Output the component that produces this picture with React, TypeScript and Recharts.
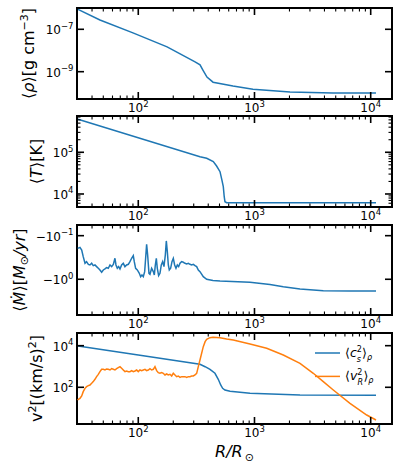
import React from 'react';
import { LineChart, Line, XAxis, YAxis, Legend, ReferenceArea } from 'recharts';

const BLUE = '#1f77b4';
const ORANGE = '#ff7f0e';
const FONT = '"DejaVu Sans", sans-serif';

// shared radius axis (R / R_sun), log scale
const xDomain = [29.7, 15250];
const xMajor = [100, 1000, 10000];
const xTicks = [
  40, 50, 60, 70, 80, 90, 100,
  200, 300, 400, 500, 600, 700, 800, 900, 1000,
  2000, 3000, 4000, 5000, 6000, 7000, 8000, 9000, 10000,
];

// <rho> [g cm^-3]
const rhoR = [30.3, 46.8, 90, 177, 308, 340, 360, 390, 440, 653, 970, 2020, 4740, 11100];
const rho = [8.7e-7, 2.75e-7, 6.8e-8, 1.48e-8, 2.9e-9, 2.1e-9, 1.2e-9, 5.6e-10, 3.2e-10, 2.1e-10, 1.5e-10, 1.1e-10, 1.0e-10, 1.0e-10];
const rhoTicks = [1e-9, 1e-7];

// <T> [K]
const tempR = [30.3, 339.6, 387.9, 442, 472, 505, 524, 539, 549, 557, 576, 11110];
const temp = [616600, 78300, 71800, 59600, 46800, 34300, 21700, 15000, 8610, 6530, 6170, 6170];
const tempMajor = [1e4, 1e5];
const tempTicks = [
  5000, 6000, 7000, 8000, 9000, 1e4,
  2e4, 3e4, 4e4, 5e4, 6e4, 7e4, 8e4, 9e4, 1e5,
  2e5, 3e5, 4e5, 5e5, 6e5, 7e5,
];

// <Mdot> [M_sun / yr]
const mdotR = [
  30.1, 31.5, 32.6, 33.6, 34.8, 35.9, 37.2, 38.4, 39.7, 41.0, 42.4, 43.8, 45.3, 46.8, 48.4, 50.0, 51.7, 53.4, 55.2, 57.1,
  59.0, 61.0, 63.0, 64.3, 66.0, 67.8, 69.6, 71.9, 74.3, 76.8, 79.4, 82.1, 84.8, 87.7, 90.6, 92.4, 94.9, 98.1, 102.1, 104.8,
  107.6, 110.5, 113.5, 115.7, 118.0, 120.4, 123.6, 126.1, 130.3, 134.7, 137.4, 140.2, 143.0, 145.8, 149.7, 153.7, 157.8, 162.1, 166.4, 170.9,
  174.3, 177.8, 181.4, 184.9, 189.9, 195.0, 200.2, 205.6, 211.1, 216.8, 222.6, 228.6, 236.2, 244.1, 252.4, 260.9, 269.6, 278.6, 288.0, 297.6,
  307.6, 318.0, 328.6, 339.6, 362.6, 387.9, 439.5, 504.9, 914.8, 1359, 1769, 2463, 3909, 6634, 11110,
];
const mdot = [
  -0.195, -0.185, -0.213, -0.303, -0.430, -0.394, -0.454, -0.470, -0.430, -0.487,
  -0.470, -0.513, -0.560, -0.612, -0.692, -0.612, -0.580, -0.541, -0.560, -0.470,
  -0.513, -0.454, -0.330, -0.470, -0.560, -0.513, -0.580, -0.470, -0.430, -0.513,
  -0.470, -0.454, -0.394, -0.330, -0.287, -0.394, -0.560, -0.612, -0.730, -0.871,
  -0.797, -0.871, -0.668, -0.330, -0.158, -0.277, -0.730, -0.769, -0.560, -0.668,
  -0.797, -0.470, -0.330, -0.560, -0.826, -0.730, -0.470, -0.394, -0.513, -0.277,
  -0.132, -0.232, -0.470, -0.612, -0.560, -0.394, -0.330, -0.470, -0.560, -0.470,
  -0.513, -0.430, -0.394, -0.408, -0.430, -0.446, -0.430, -0.454, -0.470, -0.454,
  -0.487, -0.513, -0.612, -0.668, -0.871, -1.0, -1.065, -1.094, -1.172, -1.316,
  -1.479, -1.668, -1.825, -1.855, -1.855,
];
const mdotTicks = [0.1, 1];

// <c_s^2>_rho and <v_R^2>_rho [(km/s)^2]
const csR = [30.3, 100, 339.6, 376, 414, 457, 488, 512, 532, 557, 616, 915, 2463, 11110];
const cs2 = [9700, 3590, 1277, 977, 733, 471, 243, 129, 89.5, 74, 64.6, 51.5, 42.7, 42];
const vrR = [
  30.0, 30.5, 31.5, 32.6, 33.6, 34.8, 35.9, 37.2, 38.4, 39.7, 41.0, 42.4, 43.8, 45.3, 46.8, 48.4, 50.0, 51.7, 53.4, 55.2,
  57.1, 59.0, 61.0, 63.0, 65.1, 67.3, 69.6, 71.9, 74.3, 76.8, 79.4, 82.1, 84.8, 87.7, 90.6, 93.7, 96.8, 100, 103.4, 106.9,
  110.5, 114.2, 118.0, 122.0, 126.1, 130.3, 134.7, 139.2, 143.9, 148.7, 153.7, 158.9, 164.2, 169.7, 175.4, 181.4, 187.5, 193.8, 200.2, 207.0,
  213.9, 221.1, 228.6, 236.2, 244.1, 252.4, 260.9, 269.6, 278.6, 288.0, 297.6, 307.6, 318.0, 328.6, 339.6,
  362.6, 376, 387.9, 414, 439.5, 504.9, 576.5, 657, 914.8, 1273, 1769, 2463, 3206, 3909, 4766, 6634, 9240, 11110,
];
const vr2 = [
  24.5, 26.4, 29.5, 38.2, 61.6, 89.2, 107, 120, 129, 155, 187, 242, 324, 420, 565, 731, 731, 679, 759, 731,
  679, 787, 731, 679, 787, 879, 982, 817, 679, 565, 608, 565, 565, 631, 565, 608, 679, 565, 679, 631,
  679, 731, 631, 679, 787, 679, 731, 982, 631, 505, 470, 505, 470, 390, 436, 390, 420, 349, 470, 390,
  324, 349, 301, 324, 324, 324, 301, 324, 324, 349, 349, 390, 470, 982, 2050,
  8950, 15560, 20300, 24300, 25400, 24300, 21000, 18800, 12070, 7500, 3575, 1426, 471, 186, 74, 17, 4.66, 2.68,
];
const v2Ticks = [100, 10000];

const pts = (xs: number[], ys: number[]) => xs.map((r, i) => ({ r, v: ys[i] }));

const CHART_W = 398;
const M_LEFT = 77;
const M_RIGHT = 6;
const M_TOP = 8;
const PLOT_W = CHART_W - M_LEFT - M_RIGHT;

const isMajor = (v: number, majors: number[]) => majors.some((m) => Math.abs(v / m - 1) < 1e-6);
const exp10 = (v: number) => String(Math.round(Math.log10(Math.abs(v)))).replace('-', '\u2212');

const TICK_FS = 12;
const SUP_FS = 8.5;

const tickMark = (major: boolean) => ({ len: major ? 7 : 3.5, w: major ? 1.6 : 1.1 });

// bottom axis tick, mirrored onto the top spine
const bottomTick = (plotH: number) => (p: any) => {
  const v = p.payload.value;
  const m = isMajor(v, xMajor);
  const t = tickMark(m);
  const yTop = p.y - plotH;
  return (
    <g>
      <line x1={p.x} x2={p.x} y1={p.y} y2={p.y - t.len} stroke="#000" strokeWidth={t.w} />
      <line x1={p.x} x2={p.x} y1={yTop} y2={yTop + t.len} stroke="#000" strokeWidth={t.w} />
      {m && (
        <text x={p.x} y={p.y + 13} textAnchor="middle" fontFamily={FONT} fontSize={TICK_FS} fill="#000">
          10<tspan dy={-5.5} fontSize={SUP_FS}>{exp10(v)}</tspan>
        </text>
      )}
    </g>
  );
};

// left axis tick, mirrored onto the right spine
const leftTick = (majors: number[], neg: boolean) => (p: any) => {
  const v = p.payload.value;
  const m = isMajor(v, majors);
  const t = tickMark(m);
  const xRight = p.x + PLOT_W;
  return (
    <g>
      <line x1={p.x} x2={p.x + t.len} y1={p.y} y2={p.y} stroke="#000" strokeWidth={t.w} />
      <line x1={xRight} x2={xRight - t.len} y1={p.y} y2={p.y} stroke="#000" strokeWidth={t.w} />
      {m && (
        <text x={p.x - 3.5} y={p.y + 5} textAnchor="end" fontFamily={FONT} fontSize={TICK_FS} fill="#000">
          {neg ? '\u221210' : '10'}
          <tspan dy={-5.5} fontSize={SUP_FS}>{exp10(v)}</tspan>
        </text>
      )}
    </g>
  );
};

const legendLabels: Record<string, React.ReactNode> = {
  cs: (
    <>
      {'\u27e8'}<tspan fontStyle="italic">c</tspan>
      <tspan dy={-5.5} fontSize={8}>2</tspan>
      <tspan dx={-5} dy={10} fontSize={8} fontStyle="italic">s</tspan>
      <tspan dx={1} dy={-4.5}>{'\u27e9'}</tspan>
      <tspan dy={3} fontSize={8} fontStyle="italic">{'\u03c1'}</tspan>
    </>
  ),
  vr: (
    <>
      {'\u27e8'}<tspan fontStyle="italic">v</tspan>
      <tspan dy={-5.5} fontSize={8}>2</tspan>
      <tspan dx={-5} dy={10} fontSize={8} fontStyle="italic">R</tspan>
      <tspan dx={0.5} dy={-4.5}>{'\u27e9'}</tspan>
      <tspan dy={3} fontSize={8} fontStyle="italic">{'\u03c1'}</tspan>
    </>
  ),
};

const LegendBox = (props: any) => {
  const items = props.payload || [];
  return (
    <svg width={84} height={50}>
      {items.map((it: any, i: number) => {
        const y = 12 + i * 23.4;
        return (
          <g key={it.value}>
            <line x1={3} x2={28} y1={y} y2={y} stroke={it.color} strokeWidth={1.5} />
            <text x={33} y={y + 4} fontFamily={FONT} fontSize={12.5} fill="#000">
              {legendLabels[it.value]}
            </text>
          </g>
        );
      })}
    </svg>
  );
};

type Series = { name: string; data: { r: number; v: number }[]; color: string };

type PanelProps = {
  top: number;
  h: number;
  series: Series[];
  yDomain: number[];
  yTicks: number[];
  yMajor: number[];
  neg?: boolean;
  legend?: boolean;
};

const Panel = ({ top, h, series, yDomain, yTicks, yMajor, neg, legend }: PanelProps) => (
  <div style={{ position: 'absolute', left: 0, top: top - M_TOP }}>
    <LineChart width={CHART_W} height={M_TOP + h + 20} margin={{ top: M_TOP, right: M_RIGHT, bottom: 0, left: 0 }}>
      <XAxis
        xAxisId="b" type="number" dataKey="r" scale="log" domain={xDomain} allowDataOverflow
        ticks={xTicks} interval={0} tick={bottomTick(h)} tickLine={false} tickSize={0} tickMargin={0}
        height={20} axisLine={false}
      />
      <YAxis
        yAxisId="l" type="number" scale="log" domain={yDomain} allowDataOverflow reversed={neg}
        ticks={yTicks} interval={0} tick={leftTick(yMajor, !!neg)} tickLine={false} tickSize={0} tickMargin={0}
        width={M_LEFT} axisLine={false}
      />
      {series.map((s) => (
        <Line
          key={s.name} name={s.name} data={s.data} dataKey="v" xAxisId="b" yAxisId="l"
          type="linear" dot={false} stroke={s.color} strokeWidth={1.5} isAnimationActive={false}
        />
      ))}
      <ReferenceArea
        xAxisId="b" yAxisId="l" x1={xDomain[0]} x2={xDomain[1]} y1={yDomain[0]} y2={yDomain[1]}
        fill="none" fillOpacity={0} stroke="#000" strokeWidth={2} ifOverflow="visible"
      />
      {legend && (
        <Legend
          layout="vertical" align="center" verticalAlign="middle" content={<LegendBox />}
          wrapperStyle={{ left: 312, top: 16, width: 84, height: 50 }}
        />
      )}
    </LineChart>
  </div>
);

const labelStyle = { fontFamily: FONT, fontSize: 16, fill: '#000' };

const App = () => (
  <div style={{ position: 'absolute', left: 0, top: 0, width: 398, height: 467, background: '#fff', overflow: 'hidden' }}>
    <Panel top={8} h={91} series={[{ name: 'rho', data: pts(rhoR, rho), color: BLUE }]}
      yDomain={[5.15e-11, 1.01e-6]} yTicks={rhoTicks} yMajor={rhoTicks} />
    <Panel top={116} h={91} series={[{ name: 'T', data: pts(tempR, temp), color: BLUE }]}
      yDomain={[4875, 741000]} yTicks={tempTicks} yMajor={tempMajor} />
    <Panel top={225} h={90} series={[{ name: 'mdot', data: pts(mdotR, mdot.map((m) => -m)), color: BLUE }]}
      yDomain={[0.0569, 6.6]} yTicks={mdotTicks} yMajor={mdotTicks} neg />
    <Panel top={333} h={91} legend
      series={[
        { name: 'cs', data: pts(csR, cs2), color: BLUE },
        { name: 'vr', data: pts(vrR, vr2), color: ORANGE },
      ]}
      yDomain={[1.72, 40700]} yTicks={v2Ticks} yMajor={v2Ticks} />

    <svg width={398} height={467} style={{ position: 'absolute', left: 0, top: 0, pointerEvents: 'none' }}>
      <text transform="translate(34,53.5) rotate(-90)" textAnchor="middle" {...labelStyle}>
        {'\u27e8'}<tspan fontStyle="italic">{'\u03c1'}</tspan>{'\u27e9[g cm'}
        <tspan dy={-6.5} fontSize={11}>{'\u22123'}</tspan>
        <tspan dy={6.5}>]</tspan>
      </text>
      <text transform="translate(42,161.5) rotate(-90)" textAnchor="middle" {...labelStyle}>
        {'\u27e8'}<tspan fontStyle="italic">T</tspan>{'\u27e9[K]'}
      </text>
      <text transform="translate(25,270) rotate(-90)" textAnchor="middle" {...labelStyle}>
        {'\u27e8'}<tspan fontStyle="italic">{'\u1e40'}</tspan>{'\u27e9['}
        <tspan fontStyle="italic">M</tspan>
        <tspan dy={3} fontSize={11}>{'\u2299'}</tspan>
        <tspan dy={-3} fontStyle="italic">/yr</tspan>]
      </text>
      <text transform="translate(42,378.5) rotate(-90)" textAnchor="middle" {...labelStyle}>
        v<tspan dy={-6.5} fontSize={11}>2</tspan>
        <tspan dy={6.5}>[(km/s)</tspan>
        <tspan dy={-6.5} fontSize={11}>2</tspan>
        <tspan dy={6.5}>]</tspan>
      </text>
      <text x={234.5} y={456.7} textAnchor="middle" {...labelStyle}>
        <tspan fontStyle="italic">R/R</tspan>
        <tspan dx={2} dy={4} fontSize={11}>{'\u2299'}</tspan>
      </text>
    </svg>
  </div>
);

export default App;
